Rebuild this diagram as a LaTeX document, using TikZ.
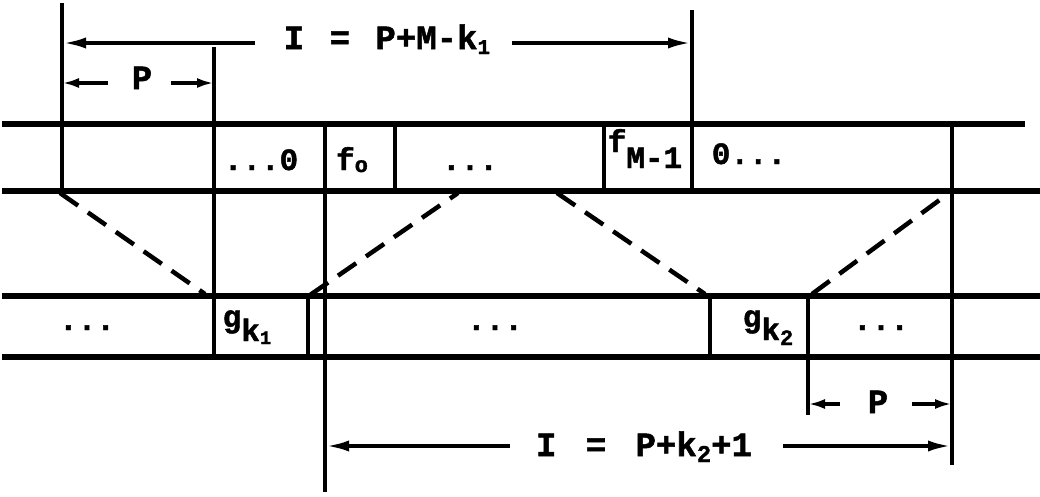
\documentclass[tikz,border=0pt]{standalone}
\usepackage{fontspec}
\setmainfont{Liberation Mono}[BoldFeatures={FakeBold=1.5}]
\usetikzlibrary{arrows.meta}
\begin{document}
\begin{tikzpicture}[x=1pt,y=-1pt,
  strip/.style={line width=5.5pt},
  wall/.style={line width=4.5pt},
  dim/.style={line width=4pt},
  tip/.style={-{Latex[length=24pt,width=11pt]}},
  stip/.style={-{Latex[length=17pt,width=10pt]}},
  map/.style={line width=4.5pt, dash pattern=on 22pt off 12pt},
  lbl/.style={font=\fontsize{34}{34}\selectfont\bfseries, inner sep=0pt, anchor=base},
  cell/.style={font=\fontsize{31}{31}\selectfont\bfseries, inner sep=0pt, anchor=base},
]
\useasboundingbox (0,0) rectangle (1040,496);
% strip lines
\coordinate (t1l) at (2,124);  \coordinate (t1r) at (1025,124);
\coordinate (t2l) at (2,191);  \coordinate (t2r) at (1040,191);
\coordinate (b1l) at (2,296);  \coordinate (b1r) at (1040,296);
\coordinate (b2l) at (2,357);  \coordinate (b2r) at (1040,357);
\draw[strip] (t1l) -- (t1r);
\draw[strip] (t2l) -- (t2r);
\draw[strip] (b1l) -- (b1r);
\draw[strip] (b2l) -- (b2r);
% vertical walls
\coordinate (v1a) at (62,3);    \coordinate (v1b) at (62,191);
\coordinate (v2a) at (214,47);  \coordinate (v2b) at (214,357);
\coordinate (v3a) at (325,124); \coordinate (v3b) at (325,492);
\coordinate (v4a) at (395,124); \coordinate (v4b) at (395,191);
\coordinate (v5a) at (604,124); \coordinate (v5b) at (604,191);
\coordinate (v6a) at (692,10);  \coordinate (v6b) at (692,191);
\coordinate (v7a) at (952,122); \coordinate (v7b) at (952,465);
\coordinate (v8a) at (308,296); \coordinate (v8b) at (308,357);
\coordinate (v9a) at (710,296); \coordinate (v9b) at (710,357);
\coordinate (v10a) at (808,296); \coordinate (v10b) at (808,415);
\foreach \v in {v1,v2,v3,v4,v5,v6,v7,v8,v9,v10}
  \draw[wall] (\v a) -- (\v b);
% dashed mapping lines
\coordinate (d1a) at (60,193);  \coordinate (d1b) at (205,294);
\coordinate (d2a) at (310,295); \coordinate (d2b) at (458,193);
\coordinate (d3a) at (557,193); \coordinate (d3b) at (705,294);
\coordinate (d4a) at (812,294); \coordinate (d4b) at (945,196);
\draw[map] (d1a) -- (d1b);
\draw[map] (d2a) -- (d2b);
\draw[map] (d3a) -- (d3b);
\draw[map] (d4a) -- (d4b);
% top dimension I = P+M-k1
\node[lbl] (Itop) at (387,49) {I\hspace{5pt} = \hspace{5pt}P+M-k\raisebox{-5pt}{\fontsize{21}{21}\selectfont 1}};
\coordinate (i1s) at (255,43); \coordinate (i1e) at (62,43);
\coordinate (i2s) at (512,43); \coordinate (i2e) at (692,43);
\draw[dim,tip] (i1s) -- (i1e);
\draw[dim,tip] (i2s) -- (i2e);
% top dimension P
\node[lbl] (Ptop) at (142,89) {P};
\coordinate (p1s) at (108,83); \coordinate (p1e) at (62,83);
\coordinate (p2s) at (171,83); \coordinate (p2e) at (214,83);
\draw[dim,stip] (p1s) -- (p1e);
\draw[dim,stip] (p2s) -- (p2e);
% bottom dimension P
\node[lbl] (Pbot) at (878,413) {P};
\coordinate (q1s) at (840,404); \coordinate (q1e) at (808,404);
\coordinate (q2s) at (912,404); \coordinate (q2e) at (952,404);
\draw[dim,stip] (q1s) -- (q1e);
\draw[dim,stip] (q2s) -- (q2e);
% bottom dimension I = P+k2+1
\node[lbl] (Ibot) at (644,456) {I\hspace{9pt} = \hspace{9pt}P+k\raisebox{-6pt}{\fontsize{24}{24}\selectfont 2}+1};
\coordinate (j1s) at (510,446); \coordinate (j1e) at (325,446);
\coordinate (j2s) at (783,446); \coordinate (j2e) at (952,446);
\draw[dim,tip] (j1s) -- (j1e);
\draw[dim,tip] (j2s) -- (j2e);
% top strip cells
\node[cell] (c1) at (261,170) {...0};
\node[cell] (c2) at (352,170) {f\raisebox{-2pt}{\fontsize{22}{22}\selectfont o}};
\node[cell] (c3) at (470,170) {...};
\node[cell] (c4) at (645,168) {\raisebox{16pt}{f}M-1};
\node[cell] (c5) at (749,164) {0...};
% bottom strip cells
\node[cell] (e1) at (87,330) {...};
\node[cell] (e2) at (247,327) {g\raisebox{-14pt}{k\raisebox{-3pt}{\fontsize{19}{19}\selectfont 1}}};
\node[cell] (e3) at (495,330) {...};
\node[cell] (e4) at (768,327) {g\raisebox{-13pt}{k\raisebox{-5pt}{\fontsize{22}{22}\selectfont 2}}};
\node[cell] (e5) at (881,330) {...};
\end{tikzpicture}
\end{document}
